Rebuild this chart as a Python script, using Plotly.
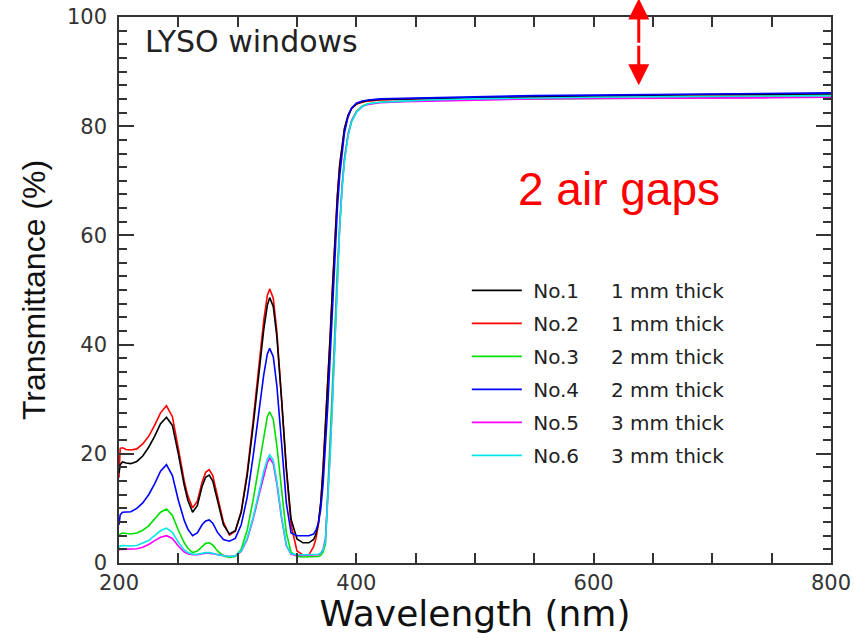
import plotly.graph_objects as go

wavelength = [200, 201, 203, 206, 210, 215, 220, 225, 230, 235, 240, 245, 250, 255, 258, 262, 266, 270, 273, 276,
              279, 283, 288, 293, 298, 303, 308, 313, 318, 322, 325, 327, 330, 333, 337, 341, 345, 350, 355, 360,
              364, 366, 368, 370, 372, 374, 376, 378, 380, 382, 384, 386, 388, 390, 393, 396, 400, 405, 410, 420,
              440, 460, 500, 550, 600, 650, 700, 750, 800]

no1 = [16.5, 18.0, 18.5, 18.3, 18.2, 18.6, 19.6, 21.2, 23.2, 25.5, 26.7, 25.2, 20.0, 14.2, 11.5, 9.3, 10.5, 14.0, 15.7, 16.1,
       15.0, 11.3, 7.0, 5.3, 5.9, 9.3, 16.0, 25.0, 35.0, 42.8, 47.2, 48.6, 47.0, 41.5, 30.0, 17.5, 8.0, 4.4, 3.7, 3.7,
       4.3, 5.3, 7.3, 11.0, 17.0, 24.5, 32.5, 41.5, 50.5, 59.0, 67.0, 72.8, 76.8, 79.6, 82.0, 83.3, 84.1, 84.5, 84.7, 84.9,
       85.0, 85.1, 85.2, 85.4, 85.6, 85.7, 85.8, 85.8, 85.9]

no2 = [15.6, 21.0, 21.1, 20.8, 20.7, 20.9, 21.8, 23.2, 25.2, 27.5, 28.8, 26.8, 21.0, 15.0, 12.3, 10.1, 11.3, 14.8, 16.6, 17.1,
       16.0, 12.0, 7.5, 5.1, 5.8, 9.5, 16.5, 26.0, 36.5, 44.5, 49.0, 50.2, 48.5, 42.5, 30.0, 17.0, 7.0, 2.2, 1.5, 1.5,
       3.0, 4.5, 7.0, 11.0, 17.6, 25.0, 33.0, 42.0, 51.0, 59.5, 67.5, 73.0, 76.8, 79.5, 81.8, 83.2, 84.0, 84.4, 84.6, 84.8,
       84.9, 85.0, 85.1, 85.3, 85.4, 85.5, 85.6, 85.6, 85.7]

no3 = [4.8, 5.3, 5.5, 5.4, 5.3, 5.5, 6.0, 6.8, 8.0, 9.3, 9.9, 8.7, 6.0, 3.7, 2.7, 1.9, 2.2, 3.1, 3.6, 3.7,
       3.3, 2.2, 1.3, 1.0, 1.2, 2.5, 6.0, 11.5, 18.0, 23.5, 26.8, 27.7, 26.3, 21.5, 13.0, 5.5, 2.0, 1.2, 1.1, 1.1,
       1.1, 1.1, 1.2, 1.4, 2.0, 3.5, 13.0, 21.5, 31.0, 43.0, 54.0, 62.5, 69.0, 74.0, 78.5, 81.0, 82.7, 83.7, 84.1, 84.4,
       84.6, 84.7, 84.9, 85.0, 85.1, 85.2, 85.2, 85.3, 85.3]

no4 = [7.0, 8.8, 9.3, 9.3, 9.4, 10.0, 11.0, 12.5, 14.5, 16.8, 18.0, 16.0, 11.5, 7.8, 6.2, 5.0, 5.5, 7.0, 7.7, 7.9,
       7.3, 5.6, 4.3, 4.0, 4.5, 7.0, 12.0, 19.5, 28.0, 34.5, 38.3, 39.3, 37.8, 32.5, 22.0, 11.0, 5.5, 5.0, 5.0, 5.0,
       5.3, 6.0, 7.3, 9.8, 14.5, 21.0, 29.0, 38.0, 47.5, 56.5, 64.8, 71.0, 75.5, 78.8, 81.7, 83.3, 84.2, 84.6, 84.8, 85.0,
       85.1, 85.2, 85.4, 85.6, 85.7, 85.8, 85.9, 86.0, 86.1]

no5 = [2.4, 2.5, 2.5, 2.5, 2.5, 2.6, 2.9, 3.4, 4.1, 4.7, 5.0, 4.5, 3.1, 2.0, 1.7, 1.5, 1.5, 1.7, 1.8, 1.8,
       1.7, 1.5, 1.3, 1.2, 1.3, 2.1, 4.3, 8.0, 12.5, 16.2, 18.4, 19.2, 18.2, 14.5, 8.2, 3.2, 1.6, 1.4, 1.4, 1.4,
       1.4, 1.4, 1.5, 1.8, 2.5, 4.5, 12.0, 20.5, 30.5, 42.0, 53.0, 62.0, 69.0, 74.0, 78.4, 81.0, 82.6, 83.6, 84.0, 84.3,
       84.5, 84.6, 84.8, 85.0, 85.1, 85.1, 85.2, 85.2, 85.3]

no6 = [2.9, 3.1, 3.2, 3.1, 3.1, 3.2, 3.6, 4.1, 5.0, 5.9, 6.4, 5.6, 3.8, 2.4, 1.9, 1.6, 1.6, 1.8, 1.9, 1.9,
       1.8, 1.5, 1.3, 1.2, 1.3, 2.2, 4.5, 8.3, 13.0, 16.8, 19.0, 19.8, 18.8, 15.0, 8.5, 3.3, 1.7, 1.5, 1.5, 1.5,
       1.5, 1.5, 1.6, 1.8, 2.4, 4.0, 11.5, 20.0, 30.0, 41.5, 52.5, 61.5, 68.5, 73.5, 78.2, 80.8, 82.5, 83.6, 84.1, 84.4,
       84.6, 84.8, 85.0, 85.2, 85.3, 85.4, 85.5, 85.5, 85.6]

NB = "\u00a0"
labels = [NB + "No.1" + NB * 5 + "1 mm thick",
          NB + "No.2" + NB * 5 + "1 mm thick",
          NB + "No.3" + NB * 5 + "2 mm thick",
          NB + "No.4" + NB * 5 + "2 mm thick",
          NB + "No.5" + NB * 5 + "3 mm thick",
          NB + "No.6" + NB * 5 + "3 mm thick"]
series = [no1, no2, no3, no4, no5, no6]
colors = ["#000000", "#ff0000", "#00e000", "#0000ff", "#ff00ff", "#00e8e8"]
draw_order = [1, 0, 2, 4, 5, 3]

fig = go.Figure()
for i in draw_order:
    fig.add_trace(go.Scatter(
        x=wavelength, y=series[i], mode="lines", name=labels[i],
        line=dict(color=colors[i], width=1.6),
        legendrank=i + 1, legendgroup="g%d" % i,
    ))

axis_color = "#333333"
fig.update_xaxes(
    range=[200, 800], tick0=200, dtick=200, ticks="inside", ticklen=10, tickwidth=1.5,
    tickcolor=axis_color, showline=True, linecolor=axis_color, linewidth=1.5, mirror="ticks",
    showgrid=False, zeroline=False, automargin=False,
    minor=dict(ticks="inside", dtick=50, ticklen=10, tickwidth=1.5, tickcolor=axis_color, showgrid=False),
    tickfont=dict(family="DejaVu Sans", size=21, color="#333333"),
    title=dict(text="Wavelength (nm)", font=dict(family="DejaVu Sans", size=36, color="#111111"), standoff=6),
)
fig.update_yaxes(
    range=[0, 100], tick0=0, dtick=20, ticks="inside", ticklen=15, tickwidth=1.5,
    tickcolor=axis_color, showline=True, linecolor=axis_color, linewidth=1.5, mirror="ticks",
    showgrid=False, zeroline=False, automargin=False,
    minor=dict(ticks="inside", dtick=2.5, ticklen=8, tickwidth=1.5, tickcolor=axis_color, showgrid=False),
    tickfont=dict(family="DejaVu Sans", size=21, color="#333333"), ticklabelstandoff=6,
    title=dict(text="Transmittance (%)", font=dict(family="Liberation Sans", size=32, color="#111111"), standoff=12),
)

fig.add_annotation(x=0.034, y=0.955, xref="paper", yref="paper", text="LYSO windows", showarrow=False,
                   xanchor="left", yanchor="middle", font=dict(family="DejaVu Sans", size=30, color="#222222"))
fig.add_annotation(x=621, y=68.5, xref="x", yref="y", text="2 air gaps", showarrow=False,
                   xanchor="center", yanchor="middle", font=dict(family="Liberation Sans", size=46, color="#ff0000"))
fig.add_annotation(x=638, y=103.4, ax=638, ay=95, xref="x", yref="y", axref="x", ayref="y", text="",
                   showarrow=True, arrowhead=2, arrowsize=1.4, arrowwidth=3, arrowcolor="#ff0000")
fig.add_annotation(x=638, y=87.5, ax=638, ay=95, xref="x", yref="y", axref="x", ayref="y", text="",
                   showarrow=True, arrowhead=2, arrowsize=1.4, arrowwidth=3, arrowcolor="#ff0000")

fig.update_layout(
    width=854, height=634, margin=dict(l=119, r=23, t=17, b=71),
    paper_bgcolor="white", plot_bgcolor="white",
    legend=dict(x=0.4885, y=0.535, xanchor="left", yanchor="top", bgcolor="rgba(0,0,0,0)",
                font=dict(family="DejaVu Sans", size=20, color="#222222"), tracegroupgap=4, itemwidth=50),
    showlegend=True,
)

fig.write_html("out.html")
